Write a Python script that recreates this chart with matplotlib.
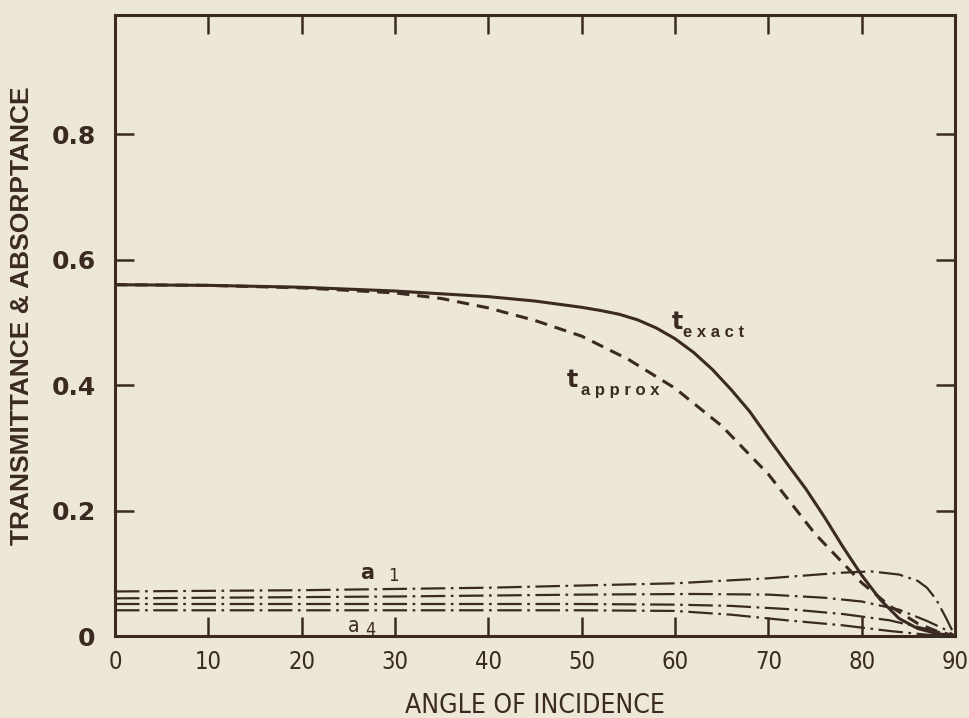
#!/usr/bin/env python3
"""Transmittance and absorptance versus angle of incidence."""

import matplotlib

matplotlib.use("Agg")
import matplotlib.pyplot as plt

INK = "#3a2a21"
PAPER = "#ece7d7"

# values
t_exact_angle = [0, 10, 20, 30, 40, 45, 50, 52, 54, 56, 58, 60, 62, 64, 66,
                 68, 70, 72, 74, 76, 78, 80, 82, 84, 86, 88, 90]
t_exact = [0.560, 0.559, 0.556, 0.550, 0.541, 0.534, 0.524, 0.519, 0.513,
           0.504, 0.491, 0.474, 0.452, 0.425, 0.393, 0.358, 0.316, 0.275,
           0.235, 0.190, 0.142, 0.097, 0.058, 0.028, 0.012, 0.004, 0.0]

t_approx_angle = [0, 10, 20, 30, 35, 40, 45, 50, 55, 60, 65, 70, 75, 80, 83,
                  86, 88, 90]
t_approx = [0.560, 0.559, 0.555, 0.547, 0.538, 0.523, 0.503, 0.478, 0.441,
            0.395, 0.335, 0.258, 0.163, 0.085, 0.048, 0.020, 0.008, 0.0]

a1_angle = [0, 20, 40, 60, 70, 78, 81, 84, 86, 87, 88, 89, 90]
a1 = [0.071, 0.073, 0.077, 0.084, 0.092, 0.101, 0.103, 0.098, 0.088, 0.077,
      0.058, 0.030, 0.0]

a2_angle = [0, 30, 50, 62, 70, 76, 80, 84, 87, 89, 90]
a2 = [0.060, 0.063, 0.066, 0.067, 0.066, 0.061, 0.055, 0.042, 0.024, 0.010,
      0.0]

a3_angle = [0, 30, 50, 60, 66, 72, 78, 83, 87, 90]
a3 = [0.051, 0.051, 0.051, 0.050, 0.048, 0.043, 0.035, 0.025, 0.011, 0.0]

a4_angle = [0, 30, 50, 60, 66, 72, 78, 83, 87, 90]
a4 = [0.041, 0.041, 0.041, 0.040, 0.034, 0.025, 0.017, 0.008, 0.002, 0.0]

x_ticks = [0, 10, 20, 30, 40, 50, 60, 70, 80, 90]
y_ticks = [0.0, 0.2, 0.4, 0.6, 0.8]
y_tick_labels = ["0", "0.2", "0.4", "0.6", "0.8"]

CONDENSED = ["DejaVu Sans", "Liberation Sans"]
BOLD = ["DejaVu Sans", "Liberation Sans"]


def main() -> int:
    fig = plt.figure(figsize=(9.7, 7.18), dpi=100, facecolor=PAPER)
    ax = fig.add_axes([0.1186, 0.1142, 0.8659, 0.8649], facecolor=PAPER)

    ax.plot(t_exact_angle, t_exact, color=INK, lw=2.2, solid_capstyle="butt")
    ax.plot(t_approx_angle, t_approx, color=INK, lw=2.2,
            dashes=(4.0, 2.6))
    for ang, val in ((a1_angle, a1), (a2_angle, a2), (a3_angle, a3),
                     (a4_angle, a4)):
        ax.plot(ang, val, color=INK, lw=1.6, dashes=(11, 2.5, 1.2, 2.5))

    ax.set_xlim(0, 90)
    ax.set_ylim(0, 0.99)

    ax.set_xticks(x_ticks)
    ax.set_xticklabels([str(v) for v in x_ticks], family=CONDENSED,
                       stretch="condensed", fontsize=17)
    ax.set_yticks(y_ticks)
    ax.set_yticklabels(y_tick_labels, family=BOLD, fontsize=18,
                       fontweight="bold")
    ax.tick_params(axis="both", direction="in", length=14, width=1.8,
                   color=INK, labelcolor=INK, top=True, right=True)
    ax.tick_params(axis="x", pad=10)
    ax.tick_params(axis="y", pad=14)
    for spine in ax.spines.values():
        spine.set_linewidth(2.2)
        spine.set_color(INK)

    # no tick marks in the corners
    for tick in (ax.xaxis.get_major_ticks()[0], ax.xaxis.get_major_ticks()[-1],
                 ax.yaxis.get_major_ticks()[0]):
        tick.tick1line.set_visible(False)
        tick.tick2line.set_visible(False)

    ax.set_xlabel("ANGLE OF INCIDENCE", family=CONDENSED, stretch="condensed",
                  fontsize=19, color=INK, labelpad=14)
    ax.set_ylabel("TRANSMITTANCE & ABSORPTANCE", family=["Liberation Sans",
                  "DejaVu Sans"], fontsize=19, fontweight="bold", color=INK)
    ax.yaxis.set_label_coords(-0.097, 0.516)

    # curve labels
    ax.text(59.6, 0.500, "t", fontsize=17, fontweight="bold", color=INK,
            family=BOLD, ha="left", va="center")
    ax.text(60.9, 0.484, "e x a c t", fontsize=12, fontweight="bold",
            color=INK, family=["Liberation Sans"], ha="left", va="center")
    ax.text(48.4, 0.408, "t", fontsize=17, fontweight="bold", color=INK,
            family=BOLD, ha="left", va="center")
    ax.text(49.9, 0.392, "a p p r o x", fontsize=12, fontweight="bold",
            color=INK, family=["Liberation Sans"], ha="left", va="center")
    ax.text(26.3, 0.101, "a", fontsize=15, fontweight="bold", color=INK,
            family=BOLD, ha="left", va="center")
    ax.text(29.3, 0.096, "1", fontsize=12, color=INK, family=CONDENSED,
            ha="left", va="center")
    ax.text(25.0, 0.016, "a", fontsize=15, color=INK, family=CONDENSED,
            stretch="condensed", ha="left", va="center")
    ax.text(26.8, 0.010, "4", fontsize=13, color=INK, family=CONDENSED,
            stretch="condensed", ha="left", va="center")

    fig.savefig("out.png", dpi=100, facecolor=PAPER)
    return 0


if __name__ == "__main__":
    raise SystemExit(main())
